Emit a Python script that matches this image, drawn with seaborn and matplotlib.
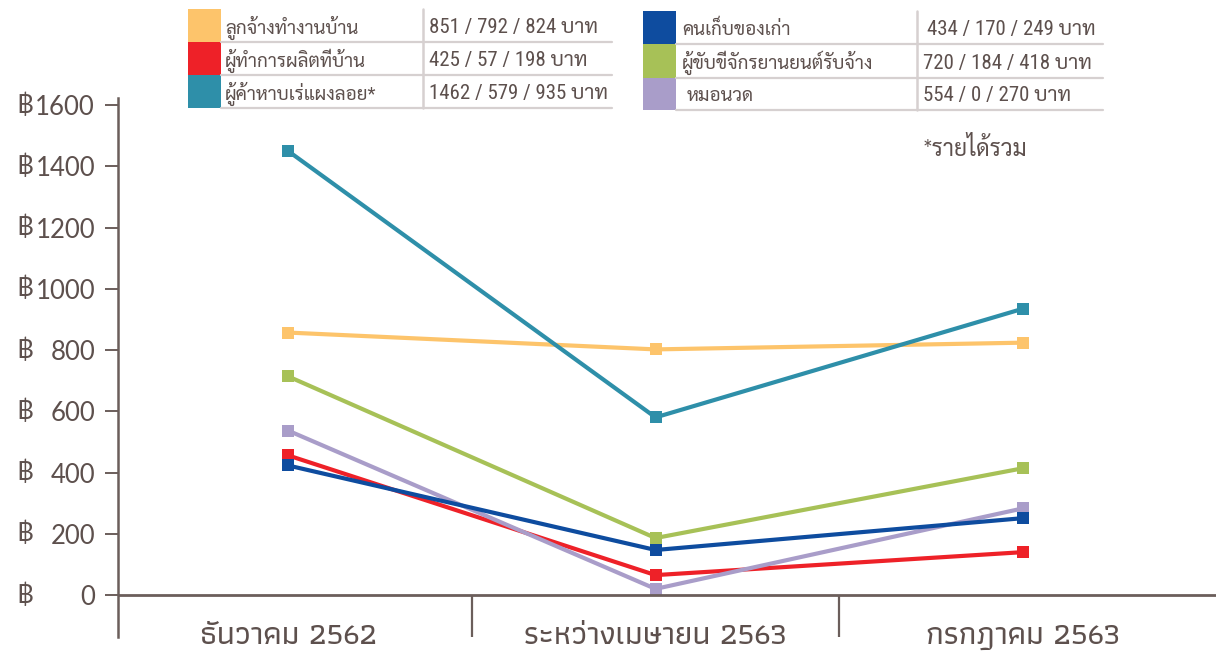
import matplotlib
matplotlib.use("Agg")
import matplotlib.pyplot as plt
from matplotlib.patches import Rectangle
from matplotlib.lines import Line2D
import matplotlib.transforms as mtransforms
import pandas as pd
import seaborn as sns

# data
periods = ["ธันวาคม 2562", "ระหว่างเมษายน 2563", "กรกฎาคม 2563"]
groups = ["ลูกจ้างทำงานบ้าน", "ผู้ทำการผลิตที่บ้าน", "ผู้ค้าหาบเร่แผงลอย*",
          "คนเก็บของเก่า", "ผู้ขับขี่จักรยานยนต์รับจ้าง", "หมอนวด"]
domestic = [857, 802, 824]
homework = [456, 65, 140]
vendor = [1450, 580, 935]
waste = [423, 147, 251]
moto = [714, 186, 414]
massage = [537, 20, 283]
legend_vals = ["851 / 792 / 824 บาท", "425 / 57 / 198 บาท", "1462 / 579 / 935 บาท",
               "434 / 170 / 249 บาท", "720 / 184 / 418 บาท", "554 / 0 / 270 บาท"]
colors = ["#fdc46b", "#ee2128", "#2e8fa9", "#0e4c9f", "#a7c157", "#a99dc9"]
yticks = [0, 200, 400, 600, 800, 1000, 1200, 1400, 1600]

series = [domestic, homework, vendor, waste, moto, massage]
rows = []
for g, vals in zip(groups, series):
    for i, v in enumerate(vals):
        rows.append([g, i, v])
df = pd.DataFrame(rows, columns=["group", "period", "income"])

sns.set_theme(style="white")
ink = "#5d504d"
axis_col = "#6b5e5b"

W, H = 1216, 656
fig = plt.figure(figsize=(W / 100, H / 100), dpi=100)
ax = fig.add_axes([118 / W, 19 / H, 1098 / W, 539 / H])

draw_order = [0, 2, 4, 1, 5, 3]
for k in draw_order:
    sub = df[df["group"] == groups[k]]
    sns.lineplot(data=sub, x="period", y="income", color=colors[k], lw=3,
                 marker="s", markersize=8.5, markeredgewidth=0, ax=ax, legend=False)

ax.set_xlim(-0.4626, 2.525)
ax.set_ylim(-137.1, 1622.9)
for s in ["top", "right", "bottom"]:
    ax.spines[s].set_visible(False)
ax.spines["left"].set_color(axis_col)
ax.spines["left"].set_linewidth(1.8)
ax.axhline(0, color=axis_col, lw=2)
ax.vlines([0.5, 1.5], -137.1, 0, color=axis_col, lw=1.6)

ax.set_xticks([])
ax.set_xlabel("")
ax.set_ylabel("")
ax.set_yticks(yticks)
ax.set_yticklabels([str(v) for v in yticks], family=["Lato", "DejaVu Sans"], fontsize=18.5, color=ink)
ax.tick_params(axis="y", direction="out", length=9.5, width=1.4, color=axis_col, pad=7, left=True)

ybl = mtransforms.blended_transform_factory(ax.transAxes, ax.transData)
for v in yticks:
    ax.text(-0.093, v, "฿", transform=ybl, ha="left", va="center",
            family=["Lato", "DejaVu Sans"], fontsize=18.5, color=ink)

for i, p in enumerate(periods):
    ax.text(i, -137.1, p, ha="center", va="center", family=["Athiti", "Sarabun"],
            fontsize=23, fontweight="medium", color=ink)

fig.text(923 / W, 1 - 148 / H, "*รายได้รวม", ha="left", va="center",
         family=["Lato", "Sarabun"], fontsize=16.5, color=ink)


def fx(x):
    return x / W


def fy(y):
    return 1 - y / H


grid_col = "#d6d0d0"
blocks = [
    dict(sw=(188, 221), rows=[9, 42, 75, 108], sep=423, name_x=225, val_x=[429, 429, 429], right=612, idx=[0, 1, 2]),
    dict(sw=(643, 676), rows=[11, 44, 78, 110], sep=917, name_x=682, val_x=[927, 923, 923], right=1103, idx=[3, 4, 5]),
]
for b in blocks:
    x0, x1 = b["sw"]
    r = b["rows"]
    fig.add_artist(Line2D([fx(b["sep"])] * 2, [fy(r[0]), fy(r[-1])], color=grid_col, lw=1.8))
    for j, k in enumerate(b["idx"]):
        top, bot = r[j], r[j + 1]
        fig.add_artist(Rectangle((fx(x0), fy(bot)), fx(x1 - x0), (bot - top) / H,
                                 transform=fig.transFigure, color=colors[k], lw=0))
        fig.add_artist(Line2D([fx(x1), fx(b["right"])], [fy(bot)] * 2, color=grid_col, lw=1.6))
        cy = fy((top + bot) / 2 + 2)
        nx = b["name_x"] + (5 if k == 5 else 0)
        fig.text(fx(nx), cy, groups[k], ha="left", va="center",
                 family=["Roboto Condensed", "Sarabun"], fontsize=13.5, color=ink)
        fig.text(fx(b["val_x"][j]), cy, legend_vals[k], ha="left", va="center",
                 family=["Roboto Condensed", "Roboto", "Sarabun"], fontsize=15, color=ink)

fig.savefig("out.png", dpi=100)
